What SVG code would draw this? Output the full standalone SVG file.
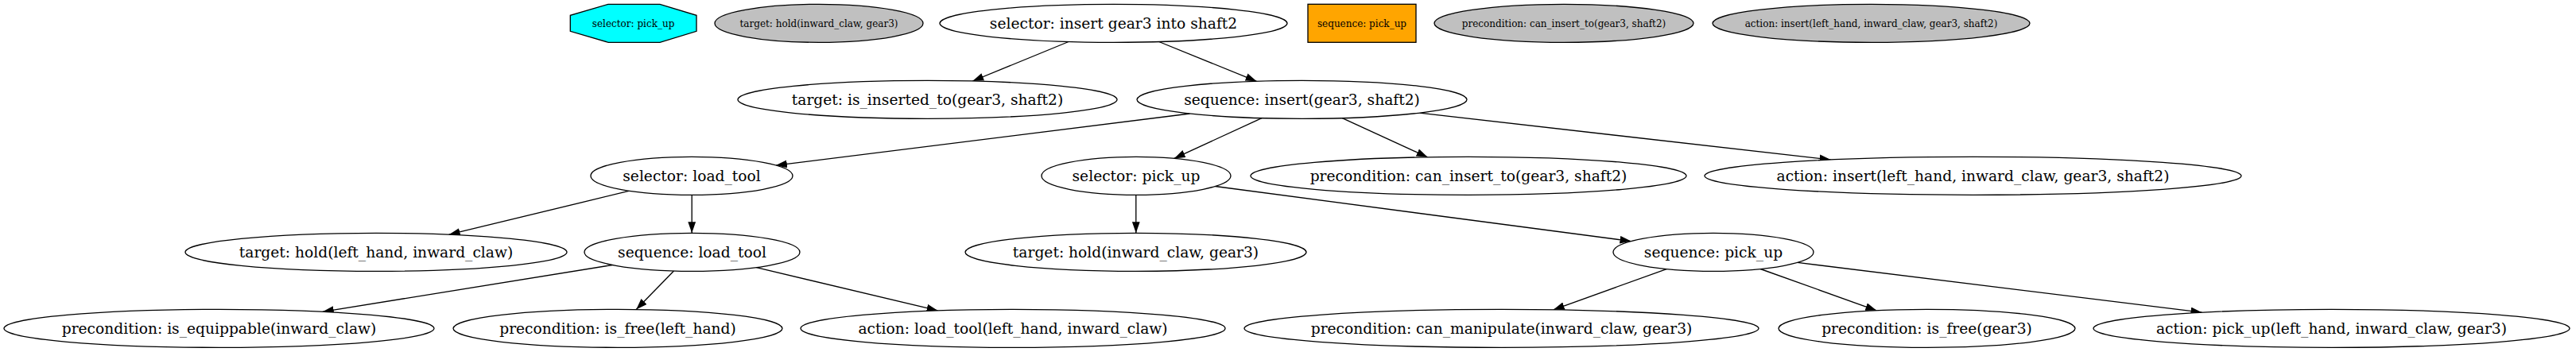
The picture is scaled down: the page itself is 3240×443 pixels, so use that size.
<svg xmlns="http://www.w3.org/2000/svg" width="3240" height="443" viewBox="0 0 3240 443">
<style>
.n{fill:#ffffff;stroke:#000000;stroke-width:1.33}
.g{fill:#c0c0c0;stroke:#000000;stroke-width:1.33}
.t{font-family:"DejaVu Serif","Liberation Serif",serif;font-size:18.67px;text-anchor:middle;fill:#000000}
.s{font-family:"DejaVu Serif","Liberation Serif",serif;font-size:12px;text-anchor:middle;fill:#000000}
.e{stroke:#000000;stroke-width:1.33;fill:none;marker-end:url(#arr)}
</style>
<defs>
<marker id="arr" markerUnits="userSpaceOnUse" markerWidth="14" markerHeight="10" viewBox="0 0 13.33 9.33" refX="13.33" refY="4.67" orient="auto">
<path d="M0,0 L13.33,4.67 L0,9.33 z" fill="#000000"/>
</marker>
</defs>
<rect width="3240" height="443" fill="#ffffff"/>
<g id="connectors">
<line class="e" x1="1344" y1="52.5" x2="1223.3" y2="102"/>
<line class="e" x1="1457.7" y1="52.5" x2="1580.5" y2="102.3"/>
<line class="e" x1="1496.6" y1="143" x2="975.9" y2="208.1"/>
<line class="e" x1="1587" y1="148.6" x2="1476.8" y2="199.4"/>
<line class="e" x1="1688.3" y1="148.6" x2="1795.6" y2="197.8"/>
<line class="e" x1="1785.5" y1="142.2" x2="2302.6" y2="201"/>
<line class="e" x1="791.8" y1="240.2" x2="564.7" y2="295.2"/>
<line class="e" x1="870.2" y1="245.3" x2="870.2" y2="293.3"/>
<line class="e" x1="1428.8" y1="245.3" x2="1428.8" y2="293.3"/>
<line class="e" x1="1528.5" y1="234.5" x2="2051.5" y2="303.6"/>
<line class="e" x1="770.3" y1="333.5" x2="405.8" y2="392.3"/>
<line class="e" x1="847.5" y1="341" x2="800.2" y2="389.5"/>
<line class="e" x1="951.4" y1="336.6" x2="1179.6" y2="390.9"/>
<line class="e" x1="2096.1" y1="338.6" x2="1953.8" y2="389.8"/>
<line class="e" x1="2214.2" y1="338.5" x2="2360.3" y2="390.8"/>
<line class="e" x1="2260.7" y1="330.4" x2="2769.5" y2="393.2"/>
</g>
<g id="legend_selector_pick_up">
<polygon points="765,5.3 830,5.3 876,19.3 876,39.3 830,53.3 765,53.3 717.3,39.3 717.3,19.3" fill="#00ffff" stroke="#000000" stroke-width="1.33"/>
<text class="s" x="796.6" y="33.5">selector: pick_up</text>
</g>
<g id="legend_target">
<ellipse class="g" cx="1030" cy="29.33" rx="131" ry="24"/>
<text class="s" x="1030" y="33.5">target: hold(inward_claw, gear3)</text>
</g>
<g id="sel_insert">
<ellipse class="n" cx="1400.5" cy="29.33" rx="218.5" ry="24"/>
<text class="t" x="1400.5" y="35.8">selector: insert gear3 into shaft2</text>
</g>
<g id="legend_sequence">
<rect x="1645" y="5.3" width="136" height="48" fill="#ffa500" stroke="#000000" stroke-width="1.33"/>
<text class="s" x="1713" y="33.5">sequence: pick_up</text>
</g>
<g id="legend_precondition">
<ellipse class="g" cx="1967" cy="29.33" rx="163" ry="24"/>
<text class="s" x="1967" y="33.5">precondition: can_insert_to(gear3, shaft2)</text>
</g>
<g id="legend_action">
<ellipse class="g" cx="2353.5" cy="29.33" rx="199.5" ry="24"/>
<text class="s" x="2353.5" y="33.5">action: insert(left_hand, inward_claw, gear3, shaft2)</text>
</g>
<g id="target_inserted">
<ellipse class="n" cx="1166.5" cy="125.33" rx="238.5" ry="24"/>
<text class="t" x="1166.5" y="131.8">target: is_inserted_to(gear3, shaft2)</text>
</g>
<g id="seq_insert">
<ellipse class="n" cx="1637.5" cy="125.33" rx="207.5" ry="24"/>
<text class="t" x="1637.5" y="131.8">sequence: insert(gear3, shaft2)</text>
</g>
<g id="sel_load_tool">
<ellipse class="n" cx="870" cy="221.33" rx="127" ry="24"/>
<text class="t" x="870" y="227.8">selector: load_tool</text>
</g>
<g id="sel_pick_up">
<ellipse class="n" cx="1429" cy="221.33" rx="119" ry="24"/>
<text class="t" x="1429" y="227.8">selector: pick_up</text>
</g>
<g id="pre_can_insert">
<ellipse class="n" cx="1847" cy="221.33" rx="274" ry="24"/>
<text class="t" x="1847" y="227.8">precondition: can_insert_to(gear3, shaft2)</text>
</g>
<g id="act_insert">
<ellipse class="n" cx="2481.5" cy="221.33" rx="337.5" ry="24"/>
<text class="t" x="2481.5" y="227.8">action: insert(left_hand, inward_claw, gear3, shaft2)</text>
</g>
<g id="target_hold_lh">
<ellipse class="n" cx="473" cy="317.33" rx="240" ry="24"/>
<text class="t" x="473" y="323.8">target: hold(left_hand, inward_claw)</text>
</g>
<g id="seq_load_tool">
<ellipse class="n" cx="870.5" cy="317.33" rx="135.5" ry="24"/>
<text class="t" x="870.5" y="323.8">sequence: load_tool</text>
</g>
<g id="target_hold_claw">
<ellipse class="n" cx="1428.5" cy="317.33" rx="214.5" ry="24"/>
<text class="t" x="1428.5" y="323.8">target: hold(inward_claw, gear3)</text>
</g>
<g id="seq_pick_up">
<ellipse class="n" cx="2155" cy="317.33" rx="126" ry="24"/>
<text class="t" x="2155" y="323.8">sequence: pick_up</text>
</g>
<g id="pre_equippable">
<ellipse class="n" cx="275.5" cy="413.33" rx="270.5" ry="24"/>
<text class="t" x="275.5" y="419.8">precondition: is_equippable(inward_claw)</text>
</g>
<g id="pre_free_lh">
<ellipse class="n" cx="777" cy="413.33" rx="207" ry="24"/>
<text class="t" x="777" y="419.8">precondition: is_free(left_hand)</text>
</g>
<g id="act_load_tool">
<ellipse class="n" cx="1274" cy="413.33" rx="267" ry="24"/>
<text class="t" x="1274" y="419.8">action: load_tool(left_hand, inward_claw)</text>
</g>
<g id="pre_can_manipulate">
<ellipse class="n" cx="1888.5" cy="413.33" rx="323.5" ry="24"/>
<text class="t" x="1888.5" y="419.8">precondition: can_manipulate(inward_claw, gear3)</text>
</g>
<g id="pre_free_gear3">
<ellipse class="n" cx="2423.5" cy="413.33" rx="186.5" ry="24"/>
<text class="t" x="2423.5" y="419.8">precondition: is_free(gear3)</text>
</g>
<g id="act_pick_up">
<ellipse class="n" cx="2932.5" cy="413.33" rx="299.5" ry="24"/>
<text class="t" x="2932.5" y="419.8">action: pick_up(left_hand, inward_claw, gear3)</text>
</g>
</svg>
